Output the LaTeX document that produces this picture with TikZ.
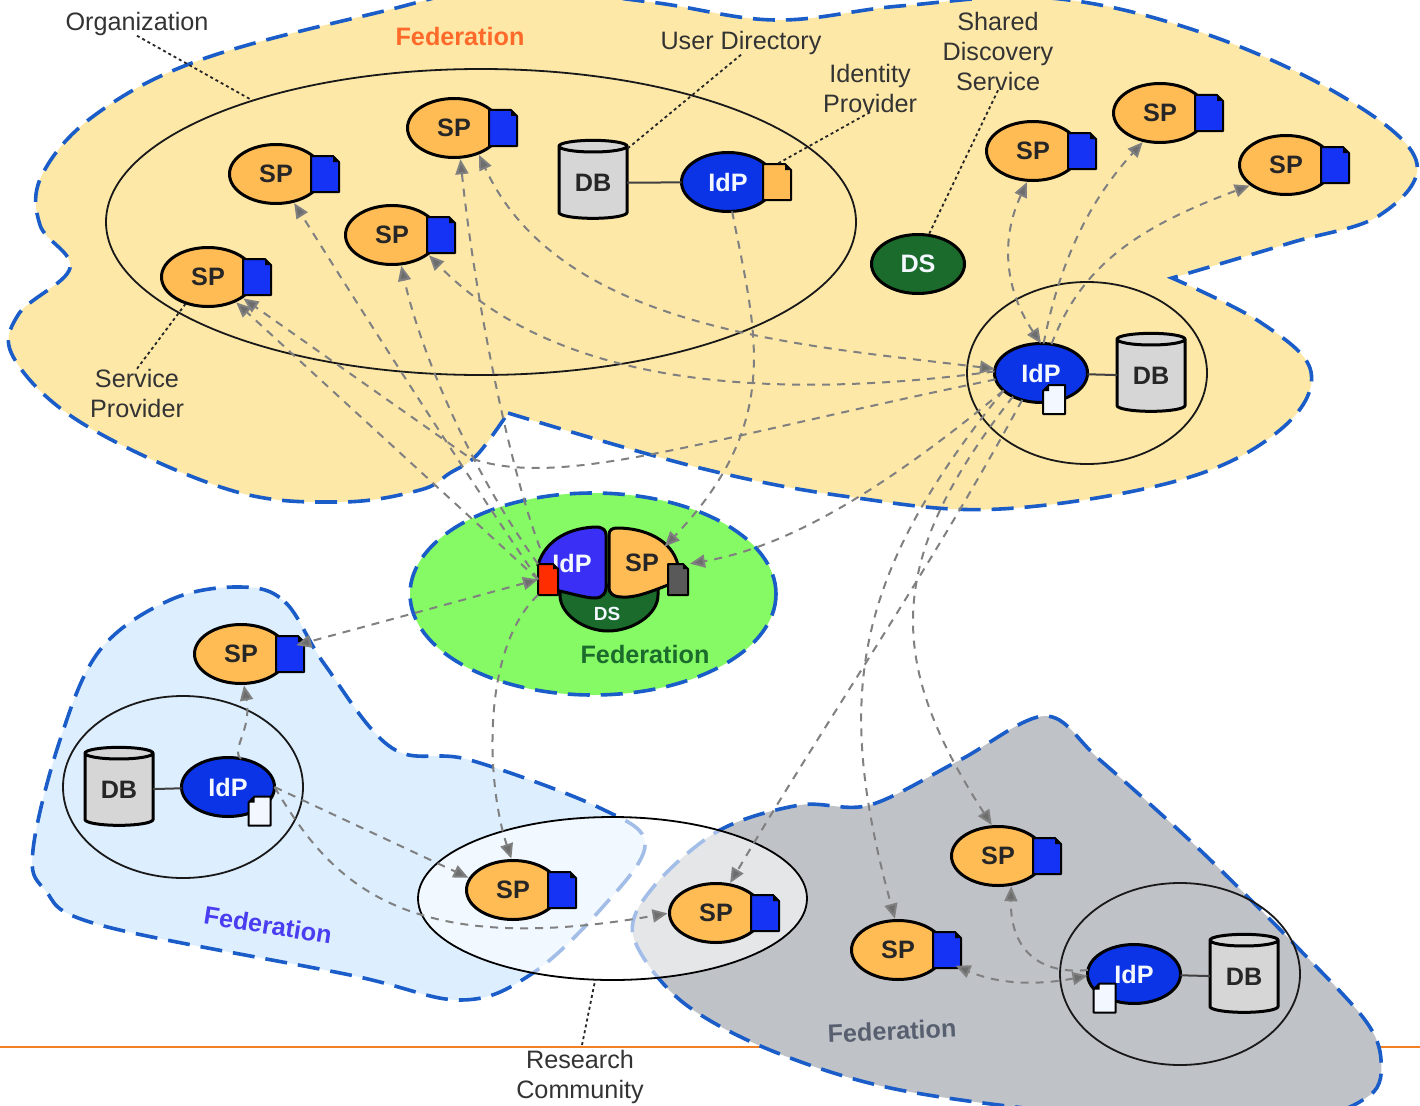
\documentclass[tikz,border=0pt]{standalone}
\usepackage{fontspec}
\setmainfont{Liberation Sans}
\usetikzlibrary{shapes.geometric,arrows.meta,calc}
\definecolor{yellowfed}{HTML}{FDE8A8}
\definecolor{bluefed}{HTML}{DDEEFF}
\definecolor{greyfed}{HTML}{BFC2C7}
\definecolor{greenfed}{HTML}{86FA64}
\definecolor{dashblue}{HTML}{1A5CC8}
\definecolor{spfill}{HTML}{FFBC55}
\definecolor{idpfill}{HTML}{0A34E5}
\definecolor{docblue}{HTML}{1433F5}
\definecolor{dsgreen}{HTML}{1A6B2C}
\definecolor{dbfill}{HTML}{D6D6D6}
\definecolor{linkgrey}{HTML}{808080}
\definecolor{pagewhite}{HTML}{F3F7FF}
\definecolor{orangeline}{HTML}{F28022}
\definecolor{cblue}{HTML}{3A30F5}
\definecolor{cred}{HTML}{FF2D00}
\definecolor{cgrey}{HTML}{595959}
\definecolor{fedorange}{HTML}{FF6A2A}
\definecolor{fedviolet}{HTML}{4A3CF0}
\definecolor{fedslate}{HTML}{586070}
\newcommand{\foldne}[3][6]{%
  \draw[docline,fill=#3] (#2.south west) -- (#2.south east) -- ($(#2.north east)+(0,#1)$) -- ($(#2.north east)+(-#1,0)$) -- (#2.north west) -- cycle;
  \fill[black] ($(#2.north east)+(0,#1)$) -- ($(#2.north east)+(-#1,0)$) -- ($(#2.north east)+(-#1,#1)$) -- cycle;}
\newcommand{\foldnw}[2][6]{%
  \draw[docline,fill=pagewhite] (#2.south west) -- (#2.south east) -- (#2.north east) -- ($(#2.north west)+(#1,0)$) -- ($(#2.north west)+(0,#1)$) -- cycle;
  \fill[black] ($(#2.north west)+(0,#1)$) -- ($(#2.north west)+(#1,0)$) -- ($(#2.north west)+(#1,#1)$) -- cycle;}
\tikzset{
  x=1pt,y=-1pt,
  every node/.style={font=\fontsize{25.2}{30}\selectfont,inner sep=0pt,outer sep=0pt},
  fedblob/.style={draw=dashblue,line width=3.6pt,dash pattern=on 22pt off 11pt},
  ring/.style={draw=black!90,line width=1.8pt},
  boldtext/.style={font=\fontsize{25.2}{30}\selectfont\bfseries},
  spnode/.style={ellipse,draw=black,line width=3pt,fill=spfill,minimum width=93pt,minimum height=59pt,boldtext,text=black!85},
  idpnode/.style={ellipse,draw=black,line width=3pt,fill=idpfill,minimum width=93pt,minimum height=59pt,boldtext,text=pagewhite},
  dsnode/.style={ellipse,draw=black,line width=3pt,fill=dsgreen,minimum width=93pt,minimum height=59pt,boldtext,text=pagewhite},
  docbox/.style={rectangle,minimum width=28pt,minimum height=36pt},
  smallbox/.style={rectangle,minimum width=22pt,minimum height=29pt},
  cbox/.style={rectangle,minimum width=20pt,minimum height=31pt},
  docline/.style={draw=black,line width=2pt,line join=round},
  dbnode/.style={cylinder,shape border rotate=90,aspect=0.32,draw=black,line width=3pt,cylinder uses custom fill,cylinder body fill=dbfill,cylinder end fill=dbfill,minimum width=68pt,minimum height=78pt,boldtext,text=black!85},
  lbl/.style={align=center,text=black!80},
  dbline/.style={draw=black!75,line width=2pt},
  leader/.style={draw=black!85,line width=1.8pt,dash pattern=on 3pt off 3pt},
  link/.style={draw=linkgrey,line width=2pt,dash pattern=on 8pt off 7pt,-{Triangle[length=15pt,width=13pt,fill=linkgrey!85!black]},shorten >=2pt},
  bilink/.style={link,{Triangle[length=15pt,width=13pt,fill=linkgrey!85!black]}-{Triangle[length=15pt,width=13pt,fill=linkgrey!85!black]}},
}
\begin{document}
\begin{tikzpicture}
\useasboundingbox (0,0) rectangle (1420,1105);
\clip (0,0) rectangle (1420,1105);
% orange line
\coordinate (ol) at (0,1047);
\coordinate (or) at (1420,1047);
\draw[draw=orangeline,line width=2pt] (ol) -- (or);
% federations
\draw[fedblob,fill=yellowfed]
 plot[smooth,tension=0.62] coordinates {(508,413)(700,468)(850,497)(1000,509)(1180,480)(1280,430)(1311,372)(1260,322)(1172,278)}
 -- plot[smooth,tension=0.62] coordinates {(1172,278)(1290,243)(1380,215)(1416,160)(1340,95)(1200,32)(1050,-2)(900,6)(775,20)(650,2)(500,-12)(380,12)(200,60)(95,115)(42,175)(40,225)(70,268)(18,315)(15,360)(85,425)(230,490)(340,502)(420,490)(450,473)(477,455)(508,413)}
 -- cycle;
\draw[fedblob,fill=bluefed] plot[smooth cycle,tension=0.6] coordinates {
 (240,587)(285,602)(325,665)(392,748)(470,760)(600,808)(645,845)(600,910)(530,975)(460,1000)(350,975)(100,925)(45,890)(33,850)(60,740)(100,650)(170,600)};
\draw[fedblob,fill=greyfed] plot[smooth cycle,tension=0.55] coordinates {
 (1045,716)(1100,760)(1200,850)(1300,950)(1365,1020)(1381,1060)(1370,1095)(1300,1118)(1100,1115)(900,1090)(770,1050)(680,1000)(633,935)(655,885)(720,830)(800,805)(870,805)(960,760)};
\draw[fedblob,fill=greenfed] (593,594) ellipse [x radius=183,y radius=101];
% research community
\node[ellipse,draw=black,line width=1.8pt,minimum width=389pt,minimum height=163pt,fill=white,fill opacity=0.6] (rc) at (612.5,898.5) {};
% rings
\node[ellipse,ring,minimum width=750pt,minimum height=306pt] (org) at (481,222) {};
\node[ellipse,ring,minimum width=240pt,minimum height=182pt] (ring2) at (1087,373) {};
\node[ellipse,ring,minimum width=240pt,minimum height=182pt] (ring3) at (183,787) {};
\node[ellipse,ring,minimum width=240pt,minimum height=182pt] (ring4) at (1180,974) {};
% DB-IdP
\node[dbnode] (db1) at (593,183) {DB};
\node[idpnode] (idp1) at (728,182) {IdP};
\node[docbox] (doc1) at (777,182) {};
\foldne{doc1}{spfill}
\draw[dbline] (db1) -- (idp1);
\node[dbnode] (db2) at (1151,376) {DB};
\node[idpnode] (idp2) at (1041,373) {IdP};
\node[smallbox] (doc2) at (1054,399.5) {};
\foldnw{doc2}
\draw[dbline] (idp2) -- (db2);
\node[dbnode] (db3) at (119,790) {DB};
\node[idpnode] (idp3) at (228,787) {IdP};
\node[smallbox] (doc3) at (259.5,811) {};
\foldnw{doc3}
\draw[dbline] (db3) -- (idp3);
\node[dbnode] (db4) at (1244,977) {DB};
\node[idpnode] (idp4) at (1134,974) {IdP};
\node[smallbox] (doc4) at (1104.5,998) {};
\foldnw{doc4}
\draw[dbline] (idp4) -- (db4);
\node[dsnode] (ds) at (918,264) {DS};
% SPs
\foreach \n/\x/\y in {a/276/174,b/454/128,c/392/235,d/208/277,e/1033/151,f/1160/113,g/1286/165,h/241/654,i/513/890,j/716/913,k/998/856,l/898/950}{
  \node[spnode] (sp\n) at (\x,\y) {SP};
  \node[docbox] (doc\n) at (\x+49,\y) {};
  \foldne{doc\n}{docblue}
}
% central entity
\path[draw=black,line width=3pt,fill=dsgreen] (560,585) -- (560,595) .. controls (560,615) and (585,631) .. (608,631) .. controls (632,631) and (658,615) .. (658,595) -- (658,585) -- cycle;
\path[draw=black,line width=3pt,fill=cblue] (606,535) .. controls (606,530) and (603,528) .. (598,527) .. controls (570,527) and (545,540) .. (538,565) -- (555,590) .. controls (570,593) and (585,598) .. (595,598) .. controls (603,598) and (606,592) .. (606,588) -- cycle;
\path[draw=black,line width=3pt,fill=spfill] (609,535) .. controls (609,530) and (612,528) .. (617,528) .. controls (645,528) and (672,540) .. (678,565) -- (668,585) .. controls (650,592) and (635,598) .. (622,597) .. controls (612,597) and (609,592) .. (609,588) -- cycle;
\node[boldtext,text=pagewhite] (cidp) at (572,563) {IdP};
\node[boldtext,text=black!85,inner sep=6pt] (csp) at (642,563) {SP};
\node[font=\fontsize{19}{22}\selectfont\bfseries,text=pagewhite] (cds) at (607,614) {DS};
\node[cbox] (cr) at (548,579.5) {};
\foldne[5]{cr}{cred}
\node[cbox] (cg) at (678,579.5) {};
\foldne[5]{cg}{cgrey}
% text labels
\node[lbl] (torg) at (137,24) {Organization};
\node[lbl] (tud) at (741,43) {User Directory};
\node[lbl] (tidp) at (870,88) {Identity\\Provider};
\node[lbl] (tsds) at (998,51) {Shared\\Discovery\\Service};
\node[lbl] (tsp) at (137,393) {Service\\Provider};
\node[lbl] (trc) at (580,1077) {Research\\Community};
\node[boldtext,text=fedorange] (f1) at (460,36) {Federation};
\node[boldtext,text=dsgreen] (f2) at (645,654) {Federation};
\node[boldtext,text=fedviolet,rotate=-9] (f3) at (268,925) {Federation};
\node[boldtext,text=fedslate,rotate=2.5] (f4) at (892,1031) {Federation};
% leaders
\coordinate (rcl) at (582,1045);
\draw[leader] (torg.south) -- (org.152);
\draw[leader] (tud.south) -- (db1.north east);
\draw[leader] (tidp.south) -- (doc1.north);
\draw[leader] (tsds.south) -- (ds.70);
\draw[leader] (tsp.north) -- (spd.-130);
\draw[leader] (rcl) -- (rc.-102);
% connectors
\coordinate (cd) at (540,548);
\draw[link] (cr.west) -- (spd.-42);
\draw[link] (cr.west) .. controls (470,480) and (380,340) .. (spa.-58);
\draw[link] (cr.north west) .. controls (470,470) and (420,350) .. (spc.-73);
\draw[link] (cd) .. controls (510,470) and (475,300) .. (spb.-78);
\draw[bilink,shorten >=-8pt] (cr.west) -- (doch.38);
\draw[link] (cr.south west) .. controls (480,650) and (487,786) .. (spi.92);
\draw[bilink] (idp2.175) .. controls (800,345) and (560,330) .. (spb.-46);
\draw[link] (idp2.178) .. controls (780,400) and (560,390) .. (spc.-28);
\draw[link] (idp2.188) .. controls (700,440) and (560,490) .. (470,458) -- (spd.-31);
\draw[link] (idp2.205) .. controls (860,510) and (770,550) .. (cg.north east);
\draw[bilink] (idp2.90) .. controls (1005,290) and (1000,240) .. (spe.-100);
\draw[link] (idp2.85) .. controls (1060,260) and (1090,200) .. (spf.-120);
\draw[link] (idp2.70) .. controls (1080,270) and (1130,230) .. (spg.-150);
\draw[link] (idp2.205) .. controls (850,580) and (835,700) .. (spl.95);
\draw[link] (idp2.220) .. controls (885,560) and (885,660) .. (spk.100);
\draw[link] (idp2.235) .. controls (930,570) and (820,730) .. (spj.65);
\draw[link] (idp1.-82) .. controls (755,330) and (785,420) .. (csp.35);
\draw[link] (idp3.65) .. controls (230,750) and (252,730) .. (sph.-85);
\draw[link] (idp3.0) -- (spi.165);
\draw[link] (idp3.0) .. controls (330,880) and (400,960) .. (spj.180);
\draw[link] (idp4.175) .. controls (1040,975) and (1010,950) .. (spk.-65);
\draw[bilink,shorten >=-6pt] (idp4.182) .. controls (1040,985) and (1000,985) .. (docl.south east);
\end{tikzpicture}
\end{document}
